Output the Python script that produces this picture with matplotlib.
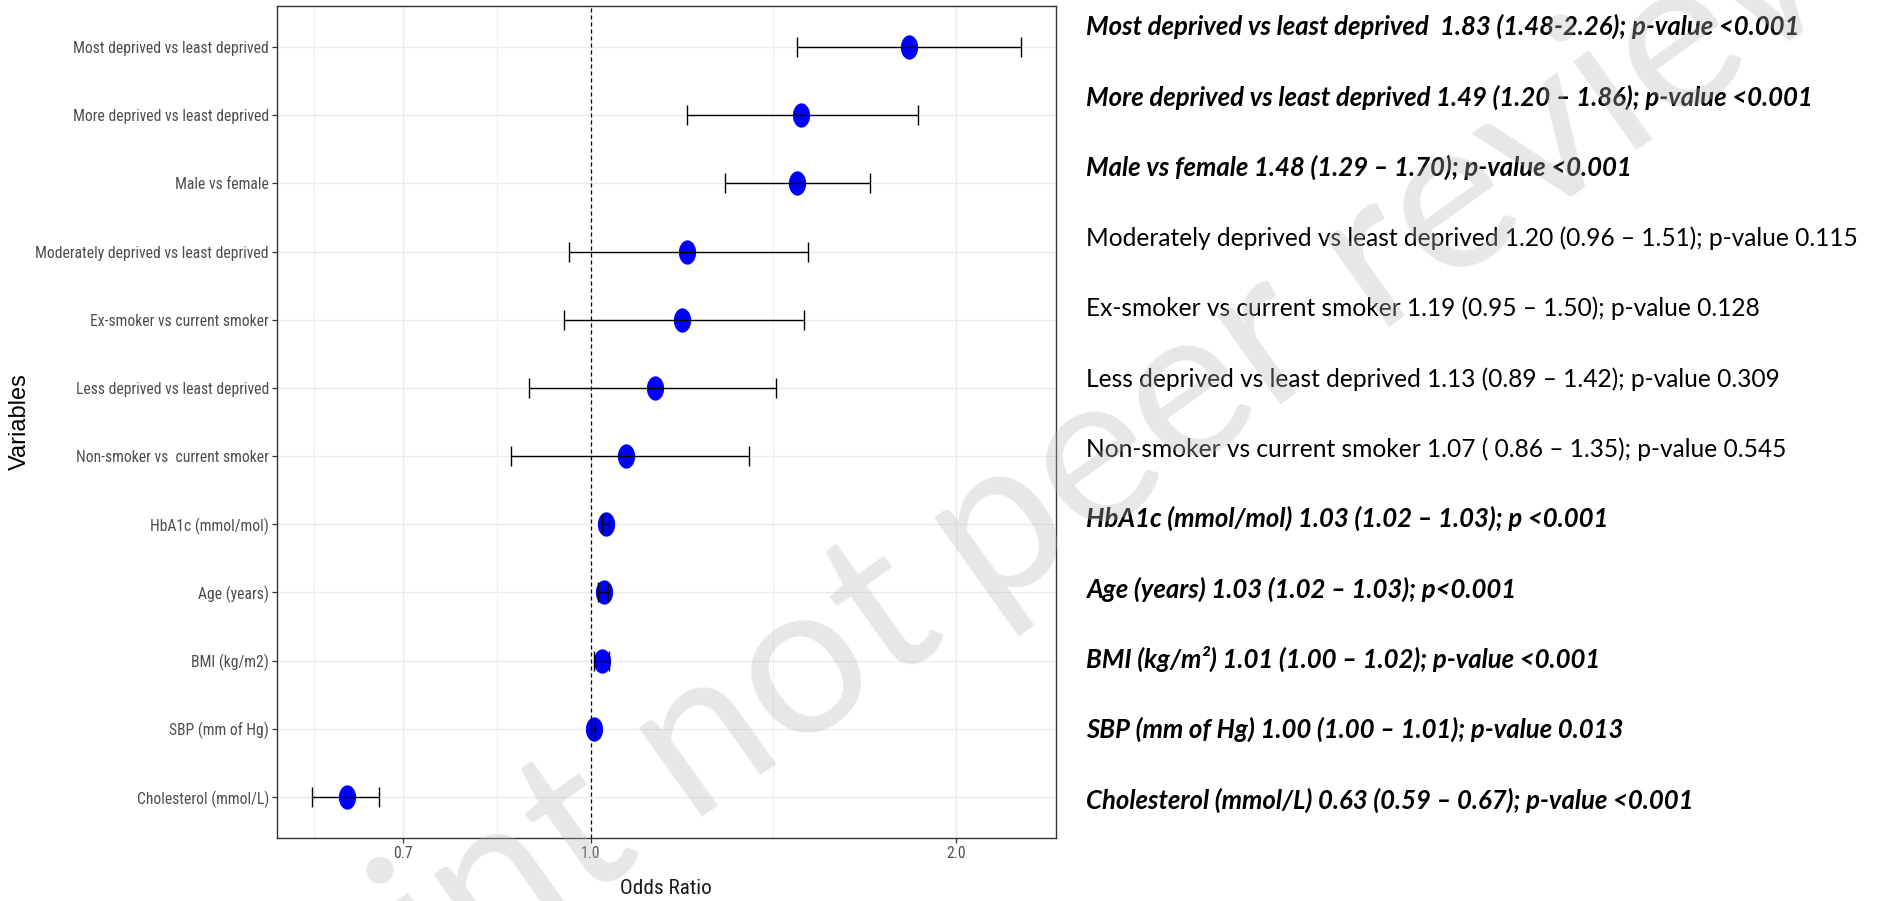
import numpy as np
import matplotlib
matplotlib.use("Agg")
import matplotlib.pyplot as plt
from matplotlib.path import Path
from matplotlib import font_manager
from matplotlib.ticker import NullFormatter

# ---------------- data ----------------
variables = [
    "Most deprived vs least deprived",
    "More deprived vs least deprived",
    "Male vs female",
    "Moderately deprived vs least deprived",
    "Ex-smoker vs current smoker",
    "Less deprived vs least deprived",
    "Non-smoker vs  current smoker",
    "HbA1c (mmol/mol)",
    "Age (years)",
    "BMI (kg/m2)",
    "SBP (mm of Hg)",
    "Cholesterol (mmol/L)",
]
odds_ratio = [1.83, 1.49, 1.48, 1.20, 1.19, 1.13, 1.07, 1.03, 1.025, 1.021, 1.006, 0.63]
ci_lower   = [1.48, 1.20, 1.29, 0.96, 0.95, 0.89, 0.86, 1.022, 1.015, 1.006, 1.000, 0.59]
ci_upper   = [2.26, 1.86, 1.70, 1.51, 1.50, 1.42, 1.35, 1.036, 1.033, 1.035, 1.008, 0.67]

x_breaks = [0.5, 0.7, 1.0, 2.0]
x_break_labels = ["0.5", "0.7", "1.0", "2.0"]

summary_lines = [
    "Most deprived vs least deprived  1.83 (1.48-2.26); p-value <0.001",
    "More deprived vs least deprived 1.49 (1.20 \u2013 1.86); p-value <0.001",
    "Male vs female 1.48 (1.29 \u2013 1.70); p-value <0.001",
    "Moderately deprived vs least deprived 1.20 (0.96 \u2013 1.51); p-value 0.115",
    "Ex-smoker vs current smoker 1.19 (0.95 \u2013 1.50); p-value 0.128",
    "Less deprived vs least deprived 1.13 (0.89 \u2013 1.42); p-value 0.309",
    "Non-smoker vs current smoker 1.07 ( 0.86 \u2013 1.35); p-value 0.545",
    "HbA1c (mmol/mol) 1.03 (1.02 \u2013 1.03); p <0.001",
    "Age (years) 1.03 (1.02 \u2013 1.03); p<0.001",
    "BMI (kg/m\u00b2) 1.01 (1.00 \u2013 1.02); p-value <0.001",
    "SBP (mm of Hg) 1.00 (1.00 \u2013 1.01); p-value 0.013",
    "Cholesterol (mmol/L) 0.63 (0.59 \u2013 0.67); p-value <0.001",
]
summary_bold = [True, True, True, False, False, False, False, True, True, True, True, True]

watermark_words = ["Preprint not", "peer reviewed"]

# ---------------- fonts ----------------
ttf = font_manager.fontManager.ttflist
names = {f.name for f in ttf}
narrow_family, narrow_stretch = "Liberation Sans", "normal"
if "Liberation Sans Narrow" in names:
    narrow_family = "Liberation Sans Narrow"
elif "Roboto Condensed" in names:
    narrow_family = "Roboto Condensed"
elif any(f.name == "DejaVu Sans" and str(f.stretch) in ("condensed", "semi-condensed") for f in ttf):
    narrow_family, narrow_stretch = "DejaVu Sans", "condensed"
side_font = "Lato" if "Lato" in names else "DejaVu Sans"

# ---------------- figure ----------------
W, H, DPI = 1878, 901, 100
fig = plt.figure(figsize=(W / DPI, H / DPI), dpi=DPI)
fig.patch.set_facecolor("white")


def fx(px):
    return px / W


def fy(py):
    return 1 - py / H


ax = fig.add_axes([fx(277), fy(838), fx(1056) - fx(277), fy(6) - fy(838)])
ax.set_xscale("log")

n = len(variables)
ypos = np.arange(n)[::-1]

# breaks & gridlines (set before limits: set_xticks may widen the view)
ax.set_xticks(x_breaks)
ax.set_xticklabels(x_break_labels)
minor = [np.sqrt(a * b) for a, b in zip(x_breaks[:-1], x_breaks[1:])]
ax.set_xticks(minor, minor=True)
ax.xaxis.set_minor_formatter(NullFormatter())
ax.set_yticks(ypos)
ax.set_yticklabels(variables)

lo = np.log(min(ci_lower))
hi = np.log(max(ci_upper))
span = hi - lo
ax.set_xlim(np.exp(lo - 0.05 * span), np.exp(hi + 0.05 * span))
ax.set_ylim(-0.6, n - 1 + 0.6)

ax.set_axisbelow(True)
ax.grid(True, which="major", color="#EBEBEB", lw=1.0)
ax.grid(True, which="minor", axis="x", color="#EBEBEB", lw=0.6)

for s in ax.spines.values():
    s.set_color("#333333")
    s.set_linewidth(1.0)

ax.tick_params(axis="both", which="major", length=3.3, width=0.9, color="#333333",
               labelcolor="#4D4D4D", pad=2.5)
ax.tick_params(axis="x", which="minor", length=0)

# reference line
ax.axvline(1.0, color="black", lw=0.9, ls=(0, (3.2, 2.4)), zorder=2.5)

# points (elliptical) then error bars on top
theta = np.linspace(0, 2 * np.pi, 64)
ellipse = Path(np.column_stack([0.71 * np.cos(theta), np.sin(theta)]), closed=True)
ax.plot(odds_ratio, ypos, linestyle="none", marker=ellipse, markersize=17.5,
        markerfacecolor="#0000FF", markeredgewidth=0, zorder=3)
xerr = [np.subtract(odds_ratio, ci_lower), np.subtract(ci_upper, odds_ratio)]
ax.errorbar(odds_ratio, ypos, xerr=xerr, fmt="none", ecolor="black",
            elinewidth=1.0, capsize=7.2, capthick=1.0, zorder=4)

renderer = fig.canvas.get_renderer()

# tick labels: narrow font, sized to the reference label lengths
tick_labels = ax.get_yticklabels() + ax.get_xticklabels()
for lab in tick_labels:
    lab.set_fontfamily(narrow_family)
    lab.set_fontstretch(narrow_stretch)
    lab.set_fontsize(12)
widest = max(lab.get_window_extent(renderer).width for lab in ax.get_yticklabels())
tick_size = 12 * 232.0 / widest
for lab in tick_labels:
    lab.set_fontsize(tick_size)

# axis titles
xt = fig.text(fx(666), fy(888), "Odds Ratio", ha="center", va="center",
              fontfamily=narrow_family, fontstretch=narrow_stretch, fontsize=14,
              color="#1A1A1A")
xt.set_fontsize(14 * 92.0 / xt.get_window_extent(renderer).width)
fig.text(fx(20), fy(422), "Variables", rotation=90, ha="center", va="center",
         fontfamily="Liberation Sans", fontsize=17, color="black")

# ---------------- right-hand summary text ----------------
texts = []
for i, (line, b) in enumerate(zip(summary_lines, summary_bold)):
    t = fig.text(fx(1086), fy(35 + 70.3 * i), line, ha="left", va="baseline",
                 fontfamily=side_font, fontsize=18,
                 fontweight="bold" if b else "normal",
                 fontstyle="italic" if b else "normal", color="black", zorder=1)
    texts.append(t)

fit_regular = texts[3].get_window_extent(renderer).width
fit_bold = texts[1].get_window_extent(renderer).width
for t, b in zip(texts, summary_bold):
    ratio = (727.0 / fit_bold) if b else (772.0 / fit_regular)
    t.set_fontsize(18 * ratio)

# ---------------- watermark ----------------
ang = 35.5
wsize = 155
ca, sa = np.cos(np.radians(ang)), np.sin(np.radians(ang))
wm_color = (0.72, 0.72, 0.72)
ax_pt = (950, 640)
fig.text(fx(ax_pt[0]), fy(ax_pt[1]), watermark_words[0], ha="right", va="baseline",
         fontfamily=side_font, fontsize=wsize, color=wm_color, alpha=0.33,
         zorder=10, rotation=ang, rotation_mode="anchor")
gap = 0.2 * wsize * DPI / 72.0
fig.text(fx(ax_pt[0] + gap * ca), fy(ax_pt[1] - gap * sa), watermark_words[1],
         ha="left", va="baseline", fontfamily=side_font, fontsize=wsize,
         color=wm_color, alpha=0.33, zorder=10, rotation=ang,
         rotation_mode="anchor")

fig.savefig("out.png", dpi=DPI)
